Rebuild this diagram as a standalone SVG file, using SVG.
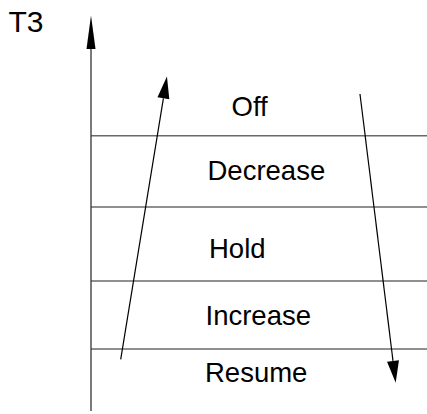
<svg xmlns="http://www.w3.org/2000/svg" width="427" height="414" viewBox="0 0 427 414">
<style>
text{font-family:"Liberation Sans",Arial,sans-serif;font-size:27.5px;fill:#000}
.band{stroke:#6a6a6a;stroke-width:1.5;fill:none}
.axis{stroke:#333;stroke-width:1.3;fill:none}
.arr{stroke:#000;stroke-width:1.2;fill:none}
</style>
<defs>
<marker id="axisHead" markerUnits="userSpaceOnUse" viewBox="0 -5 34 10" refX="0" refY="0" markerWidth="34" markerHeight="10" orient="auto" overflow="visible">
<path d="M0,-4.5 L33.5,0 L0,4.5 Z" fill="#000"/>
</marker>
<marker id="head" markerUnits="userSpaceOnUse" viewBox="0 -7 23 14" refX="0" refY="0" markerWidth="23" markerHeight="14" orient="auto" overflow="visible">
<path d="M0,-6 L22,0 L0,6 Z" fill="#000"/>
</marker>
</defs>
<text id="title" x="8.5" y="32" style="font-size:30px">T3</text>
<g id="bands">
<line class="band" x1="91" y1="135.7" x2="427" y2="135.7"/>
<line class="band" x1="91" y1="207" x2="427" y2="207"/>
<line class="band" x1="91" y1="281" x2="427" y2="281"/>
<line class="band" x1="91" y1="349" x2="427" y2="349"/>
</g>
<g id="off"><text x="231.5" y="116">Off</text></g>
<g id="decrease"><text x="207.5" y="180">Decrease</text></g>
<g id="hold"><text x="209" y="258">Hold</text></g>
<g id="increase"><text x="205.5" y="325">Increase</text></g>
<g id="resume"><text x="205" y="382">Resume</text></g>
<g id="connectors">
<line class="axis" x1="91" y1="411" x2="91" y2="49" marker-end="url(#axisHead)"/>
<line class="arr" x1="120.7" y1="359.3" x2="163.4" y2="98.3" marker-end="url(#head)"/>
<line class="arr" x1="360" y1="94" x2="393" y2="360.9" marker-end="url(#head)"/>
</g>
</svg>
